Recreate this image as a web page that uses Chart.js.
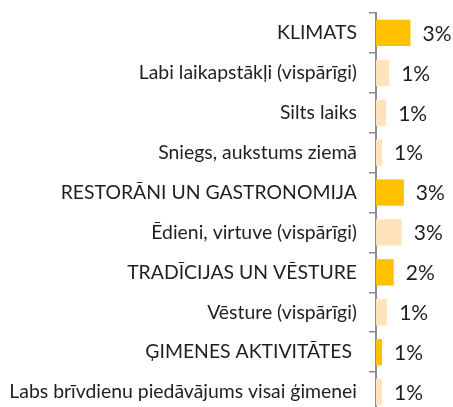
<!DOCTYPE html>
<html>
<head>
<meta charset="utf-8">
<script src="https://cdn.jsdelivr.net/npm/chart.js@4/dist/chart.umd.min.js"></script>
<style>
  html, body { margin: 0; padding: 0; background: #fff; overflow: hidden; }
  #wrap { width: 453px; height: 420px; }
</style>
</head>
<body>
<div id="wrap"><canvas id="bar-chart" width="453" height="420"></canvas></div>
<script>
// Chart data
var categories = [
    "KLIMATS",
    "Labi laikapstākļi (vispārīgi)",
    "Silts laiks",
    "Sniegs, aukstums ziemā",
    "RESTORĀNI UN GASTRONOMIJA",
    "Ēdieni, virtuve (vispārīgi)",
    "TRADĪCIJAS UN VĒSTURE",
    "Vēsture (vispārīgi)",
    "ĢIMENES AKTIVITĀTES ",
    "Labs brīvdienu piedāvājums visai ģimenei"
];
var values = [3.4, 1.3, 1.0, 0.6, 2.75, 2.55, 1.75, 1.1, 0.6, 0.6];
var valueLabels = ["3%", "1%", "1%", "1%", "3%", "3%", "2%", "1%", "1%", "1%"];
var isGroup = [true, false, false, false, true, false, true, false, true, false];

var darkColor = "#FFC000";
var lightColor = "#FFE3BC";
var textColor = "#1f1f1f";
var fontFamily = "Lato, 'Open Sans', sans-serif";

// value labels to the right of each bar
var valueLabelPlugin = {
    id: "valueLabels",
    afterDatasetsDraw: function(chart) {
        var ctx = chart.ctx;
        var meta = chart.getDatasetMeta(0);
        ctx.save();
        ctx.font = "21px " + fontFamily;
        ctx.fillStyle = textColor;
        ctx.textAlign = "left";
        ctx.textBaseline = "middle";
        meta.data.forEach(function(bar, i) {
            ctx.fillText(valueLabels[i], bar.x + 12, bar.y + 1);
        });
        ctx.restore();
    }
};

var ctx = document.getElementById("bar-chart");

var chartOptions = {
    indexAxis: "y",
    responsive: false,
    animation: false,
    layout: { padding: { top: 13, bottom: 8, left: 0, right: 0 } },
    plugins: {
        legend: { display: false },
        tooltip: { enabled: false }
    },
    scales: {
        x: {
            display: false,
            min: 0,
            max: 7.6
        },
        y: {
            offset: true,
            afterFit: function(scale) {
                // fixed axis width, no extra room for label overhang
                scale.width = 376;
                scale.paddingTop = 0;
                scale.paddingBottom = 0;
            },
            border: { display: true, color: "#8c8c8c", width: 2 },
            grid: {
                display: true,
                offset: true,
                drawOnChartArea: false,
                drawTicks: true,
                tickLength: 7,
                color: "#8c8c8c",
                lineWidth: 1.5
            },
            ticks: {
                padding: 12,
                color: textColor,
                font: { family: fontFamily, size: 19.4 }
            }
        }
    }
};

var chartData = {
    labels: categories,
    datasets: [{
        data: values,
        backgroundColor: isGroup.map(function(g) { return g ? darkColor : lightColor; }),
        borderWidth: 0,
        categoryPercentage: 1,
        barPercentage: 0.66
    }]
};

var barChart = new Chart(ctx, {
    type: "bar",
    data: chartData,
    options: chartOptions,
    plugins: [valueLabelPlugin]
});
</script>
</body>
</html>
